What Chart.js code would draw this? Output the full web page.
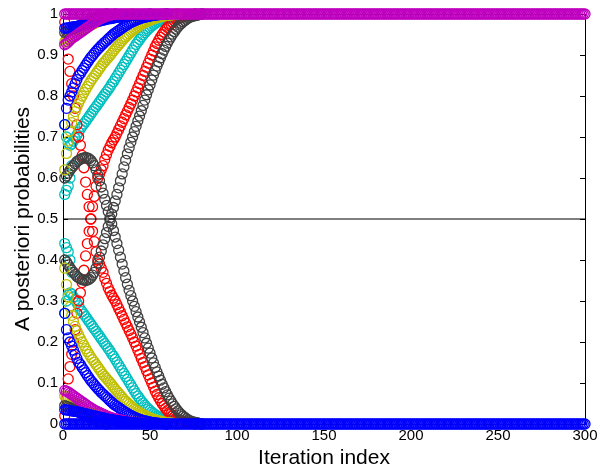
<!DOCTYPE html>
<html>
<head>
<meta charset="utf-8">
<script src="https://cdn.jsdelivr.net/npm/chart.js@4.4.1/dist/chart.umd.min.js"></script>
<style>
  html, body { margin: 0; padding: 0; background: #fff; }
  canvas { display: block; }
</style>
</head>
<body>
<canvas id="chart" width="603" height="467"></canvas>
<script>
// tick labels
const xTickLabels = ['0', '50', '100', '150', '200', '250', '300'];
const yTickLabels = ['0', '0.1', '0.2', '0.3', '0.4', '0.5', '0.6', '0.7', '0.8', '0.9', '1'];

// iterations run 1..300; converged values form the flat bands at 1 and 0
const lastIteration = 300;
const topBandValue = 1;
const bottomBandValue = 0;
const midLineX = [0, 300];
const midLineY = [0.5, 0.5];

// posterior values per iteration, starting at iteration 1
const blueUp = [0.73, 0.77, 0.79, 0.80, 0.81, 0.82, 0.83, 0.84, 0.85, 0.855,
  0.862, 0.868, 0.875, 0.882, 0.888, 0.894, 0.899, 0.904, 0.909, 0.914,
  0.918, 0.923, 0.927, 0.931, 0.935, 0.939, 0.943, 0.947, 0.951, 0.954,
  0.957, 0.960, 0.963, 0.966, 0.969, 0.972, 0.974, 0.977, 0.979, 0.981,
  0.983, 0.985, 0.987, 0.988, 0.990, 0.991, 0.992, 0.993, 0.994, 0.995,
  0.996, 0.997, 0.997, 0.998, 0.998, 0.999, 0.999, 0.999, 1, 1];
const blueLow = [0.27, 0.23, 0.21, 0.20, 0.19, 0.18, 0.17, 0.16, 0.15, 0.145,
  0.138, 0.132, 0.125, 0.118, 0.112, 0.106, 0.101, 0.096, 0.091, 0.086,
  0.082, 0.077, 0.073, 0.069, 0.065, 0.061, 0.057, 0.053, 0.049, 0.046,
  0.043, 0.040, 0.037, 0.034, 0.031, 0.028, 0.026, 0.023, 0.021, 0.019,
  0.017, 0.015, 0.013, 0.012, 0.010, 0.009, 0.008, 0.007, 0.006, 0.005,
  0.004, 0.003, 0.003, 0.002, 0.002, 0.001, 0.001, 0.001, 0, 0];

const yellowUp = [0.62, 0.66, 0.69, 0.715, 0.735, 0.75, 0.762, 0.773, 0.783, 0.792,
  0.80, 0.808, 0.816, 0.823, 0.83, 0.837, 0.843, 0.849, 0.855, 0.861,
  0.867, 0.873, 0.879, 0.884, 0.889, 0.894, 0.899, 0.904, 0.91, 0.915,
  0.92, 0.925, 0.93, 0.935, 0.94, 0.944, 0.948, 0.952, 0.956, 0.96,
  0.963, 0.966, 0.969, 0.972, 0.975, 0.977, 0.979, 0.981, 0.983, 0.985,
  0.987, 0.988, 0.99, 0.991, 0.992, 0.993, 0.994, 0.995, 0.996, 0.997,
  0.997, 0.998, 0.998, 0.999, 0.999, 1];
const yellowLow = [0.38, 0.34, 0.31, 0.285, 0.265, 0.25, 0.238, 0.227, 0.217, 0.208,
  0.20, 0.192, 0.184, 0.177, 0.17, 0.163, 0.157, 0.151, 0.145, 0.139,
  0.133, 0.127, 0.121, 0.116, 0.111, 0.106, 0.101, 0.096, 0.09, 0.085,
  0.08, 0.075, 0.07, 0.065, 0.06, 0.056, 0.052, 0.048, 0.044, 0.04,
  0.037, 0.034, 0.031, 0.028, 0.025, 0.023, 0.021, 0.019, 0.017, 0.015,
  0.013, 0.012, 0.01, 0.009, 0.008, 0.007, 0.006, 0.005, 0.004, 0.003,
  0.003, 0.002, 0.002, 0.001, 0.001, 0];

const cyanUp = [0.73, 0.70, 0.685, 0.68, 0.683, 0.69, 0.697, 0.705, 0.712, 0.72,
  0.726, 0.732, 0.738, 0.744, 0.75, 0.756, 0.762, 0.768, 0.774, 0.78,
  0.786, 0.792, 0.798, 0.804, 0.81, 0.816, 0.822, 0.829, 0.835, 0.842,
  0.849, 0.856, 0.863, 0.87, 0.877, 0.884, 0.891, 0.898, 0.905, 0.912,
  0.919, 0.926, 0.932, 0.938, 0.944, 0.949, 0.954, 0.959, 0.963, 0.967,
  0.971, 0.974, 0.977, 0.98, 0.982, 0.984, 0.986, 0.988, 0.989, 0.99,
  0.991, 0.992, 0.993, 0.994, 0.995, 0.995, 0.996, 0.996, 0.997, 0.997,
  0.997, 0.998, 0.998, 0.998, 0.999, 0.999, 0.999, 0.999, 1, 1];
const cyanLow = [0.27, 0.30, 0.315, 0.32, 0.317, 0.31, 0.303, 0.295, 0.288, 0.28,
  0.274, 0.268, 0.262, 0.256, 0.25, 0.244, 0.238, 0.232, 0.226, 0.22,
  0.214, 0.208, 0.202, 0.196, 0.19, 0.184, 0.178, 0.171, 0.165, 0.158,
  0.151, 0.144, 0.137, 0.13, 0.123, 0.116, 0.109, 0.102, 0.095, 0.088,
  0.081, 0.074, 0.068, 0.062, 0.056, 0.051, 0.046, 0.041, 0.037, 0.033,
  0.029, 0.026, 0.023, 0.02, 0.018, 0.016, 0.014, 0.012, 0.011, 0.01,
  0.009, 0.008, 0.007, 0.006, 0.005, 0.005, 0.004, 0.004, 0.003, 0.003,
  0.003, 0.002, 0.002, 0.002, 0.001, 0.001, 0.001, 0.001, 0, 0];
const cyanEarlyUp = [0.56, 0.57, 0.58, 0.60, 0.63];
const cyanEarlyLow = [0.44, 0.43, 0.42, 0.40, 0.37];

const redRise = [0.02, 0.06, 0.11, 0.14, 0.17, 0.20, 0.23, 0.27, 0.30, 0.32,
  0.345, 0.375, 0.41, 0.44, 0.47, 0.50, 0.53, 0.555, 0.58, 0.60,
  0.61, 0.62, 0.63, 0.645, 0.657, 0.668, 0.677, 0.686, 0.693, 0.70,
  0.709, 0.718, 0.727, 0.736, 0.745, 0.754, 0.763, 0.772, 0.781, 0.79,
  0.80, 0.81, 0.82, 0.83, 0.84, 0.85, 0.86, 0.87, 0.88, 0.89,
  0.90, 0.91, 0.92, 0.928, 0.936, 0.943, 0.95, 0.956, 0.962, 0.967,
  0.972, 0.976, 0.98, 0.983, 0.986, 0.988, 0.99, 0.992, 0.994, 0.995,
  0.996, 0.997, 0.998, 0.998, 0.999, 1];
const redFall = [0.98, 0.94, 0.89, 0.86, 0.83, 0.80, 0.77, 0.73, 0.70, 0.68,
  0.655, 0.625, 0.59, 0.56, 0.53, 0.50, 0.47, 0.445, 0.42, 0.40,
  0.39, 0.38, 0.37, 0.355, 0.343, 0.332, 0.323, 0.314, 0.307, 0.30,
  0.291, 0.282, 0.273, 0.264, 0.255, 0.246, 0.237, 0.228, 0.219, 0.21,
  0.20, 0.19, 0.18, 0.17, 0.16, 0.15, 0.14, 0.13, 0.12, 0.11,
  0.10, 0.09, 0.08, 0.072, 0.064, 0.057, 0.05, 0.044, 0.038, 0.033,
  0.028, 0.024, 0.02, 0.017, 0.014, 0.012, 0.01, 0.008, 0.006, 0.005,
  0.004, 0.003, 0.002, 0.002, 0.001, 0];

const grayFall = [0.60, 0.605, 0.612, 0.619, 0.625, 0.63, 0.635, 0.64, 0.643, 0.646,
  0.648, 0.649, 0.65, 0.649, 0.647, 0.643, 0.637, 0.63, 0.62, 0.607,
  0.593, 0.578, 0.563, 0.548, 0.533, 0.518, 0.503, 0.488, 0.472, 0.456,
  0.44, 0.424, 0.407, 0.39, 0.373, 0.357, 0.341, 0.326, 0.313, 0.30,
  0.287, 0.274, 0.261, 0.249, 0.236, 0.223, 0.21, 0.197, 0.185, 0.173,
  0.161, 0.149, 0.138, 0.127, 0.117, 0.107, 0.097, 0.088, 0.079, 0.071,
  0.063, 0.056, 0.049, 0.043, 0.037, 0.032, 0.027, 0.023, 0.019, 0.016,
  0.013, 0.01, 0.008, 0.006, 0.005, 0.004, 0.003, 0.002, 0.001, 0];
const grayRise = [0.40, 0.395, 0.388, 0.381, 0.375, 0.37, 0.365, 0.36, 0.357, 0.354,
  0.352, 0.351, 0.35, 0.351, 0.353, 0.357, 0.363, 0.37, 0.38, 0.393,
  0.407, 0.422, 0.437, 0.452, 0.467, 0.482, 0.497, 0.512, 0.528, 0.544,
  0.56, 0.576, 0.593, 0.61, 0.627, 0.643, 0.659, 0.674, 0.687, 0.70,
  0.713, 0.726, 0.739, 0.751, 0.764, 0.777, 0.79, 0.803, 0.815, 0.827,
  0.839, 0.851, 0.862, 0.873, 0.883, 0.893, 0.903, 0.912, 0.921, 0.929,
  0.937, 0.944, 0.951, 0.957, 0.963, 0.968, 0.973, 0.977, 0.981, 0.984,
  0.987, 0.99, 0.992, 0.994, 0.995, 0.996, 0.997, 0.998, 0.999, 1];

const magentaUp = [0.925, 0.928, 0.932, 0.936, 0.94, 0.943, 0.946, 0.949, 0.952, 0.955,
  0.958, 0.961, 0.964, 0.967, 0.97, 0.973, 0.976, 0.979, 0.982, 0.985,
  0.987, 0.989, 0.991, 0.993, 0.995, 0.996, 0.997, 0.998, 0.999, 1];
const magentaLow = [0.082, 0.08, 0.078, 0.075, 0.072, 0.069, 0.066, 0.063, 0.06, 0.057,
  0.054, 0.051, 0.048, 0.045, 0.042, 0.039, 0.037, 0.034, 0.032, 0.03,
  0.028, 0.026, 0.024, 0.022, 0.02, 0.018, 0.017, 0.015, 0.014, 0.013,
  0.012, 0.011, 0.01, 0.009, 0.008, 0.007, 0.006, 0.005, 0.005, 0.004,
  0.004, 0.003, 0.003, 0.002, 0.002, 0.002, 0.001, 0.001, 0.001, 0];

const yellowNearUp = [0.932, 0.934, 0.937, 0.94, 0.943, 0.946, 0.949, 0.952, 0.955, 0.958,
  0.96, 0.963, 0.966, 0.968, 0.971, 0.973, 0.975, 0.977, 0.979, 0.981,
  0.983, 0.984, 0.986, 0.987, 0.989, 0.99, 0.991, 0.992, 0.993, 0.994,
  0.995, 0.996, 0.996, 0.997, 0.997, 0.998, 0.998, 0.999, 0.999, 1];
const yellowNearLow = [0.068, 0.066, 0.063, 0.06, 0.057, 0.054, 0.051, 0.048, 0.045, 0.042,
  0.04, 0.037, 0.034, 0.032, 0.029, 0.027, 0.025, 0.023, 0.021, 0.019,
  0.017, 0.016, 0.014, 0.013, 0.011, 0.01, 0.009, 0.008, 0.007, 0.006,
  0.005, 0.004, 0.004, 0.003, 0.003, 0.002, 0.002, 0.001, 0.001, 0];

const grayNearUp = [0.955, 0.957, 0.958, 0.96, 0.962, 0.964, 0.966, 0.969, 0.971, 0.973,
  0.975, 0.978, 0.98, 0.982, 0.984, 0.986, 0.988, 0.99, 0.992, 0.994,
  0.995, 0.996, 0.997, 0.998, 1];
const grayNearLow = [0.045, 0.043, 0.042, 0.04, 0.038, 0.036, 0.034, 0.031, 0.029, 0.027,
  0.025, 0.022, 0.02, 0.018, 0.016, 0.014, 0.012, 0.01, 0.008, 0.006,
  0.005, 0.004, 0.003, 0.002, 0];

const blueNearUp = [0.965, 0.966, 0.966, 0.967, 0.968, 0.969, 0.969, 0.97, 0.971, 0.972,
  0.973, 0.974, 0.975, 0.976, 0.977, 0.978, 0.979, 0.98, 0.981, 0.982,
  0.983, 0.984, 0.985, 0.986, 0.987, 0.988, 0.989, 0.989, 0.99, 0.991,
  0.992, 0.992, 0.993, 0.994, 0.994, 0.995, 0.995, 0.996, 0.996, 0.997,
  0.997, 0.997, 0.998, 0.998, 0.998, 0.999, 0.999, 0.999, 0.999, 1];
const blueNearLow = [0.035, 0.034, 0.034, 0.033, 0.032, 0.031, 0.031, 0.03, 0.029, 0.028,
  0.027, 0.026, 0.025, 0.024, 0.023, 0.022, 0.021, 0.02, 0.019, 0.018,
  0.017, 0.016, 0.015, 0.014, 0.013, 0.012, 0.011, 0.011, 0.01, 0.009,
  0.008, 0.008, 0.007, 0.006, 0.006, 0.005, 0.005, 0.004, 0.004, 0.003,
  0.003, 0.003, 0.002, 0.002, 0.002, 0.001, 0.001, 0.001, 0.001, 0];

const BLUE = '#0000ff';
const RED = '#ff0000';
const YELLOW = '#bfbf00';
const CYAN = '#00bfbf';
const MAGENTA = '#bf00bf';
const GRAY = '#404040';

const iterations = Array.from({ length: lastIteration }, (_, i) => i + 1);

function circles(values, color) {
  return {
    data: values.map((v, i) => ({ x: i + 1, y: v })),
    borderColor: color,
    backgroundColor: 'rgba(0,0,0,0)',
    pointRadius: 5,
    pointBorderWidth: 1.3,
    showLine: false,
    clip: false
  };
}

function band(value, color) {
  return circles(iterations.map(() => value), color);
}

// matlab-like box with inward ticks, drawn under the markers
const axesBox = {
  id: 'axesBox',
  beforeDatasetsDraw(chart) {
    const { ctx, chartArea: a, scales: { x, y } } = chart;
    const len = 5;
    ctx.save();
    ctx.strokeStyle = '#000';
    ctx.lineWidth = 1;
    ctx.strokeRect(Math.round(a.left) + 0.5, Math.round(a.top) + 0.5,
      Math.round(a.right - a.left), Math.round(a.bottom - a.top));
    ctx.beginPath();
    x.ticks.forEach((t, i) => {
      const px = Math.round(x.getPixelForTick(i)) + 0.5;
      ctx.moveTo(px, a.bottom); ctx.lineTo(px, a.bottom - len);
      ctx.moveTo(px, a.top); ctx.lineTo(px, a.top + len);
    });
    y.ticks.forEach((t, i) => {
      const py = Math.round(y.getPixelForTick(i)) + 0.5;
      ctx.moveTo(a.left, py); ctx.lineTo(a.left + len, py);
      ctx.moveTo(a.right, py); ctx.lineTo(a.right - len, py);
    });
    ctx.stroke();
    ctx.restore();
  }
};

Chart.defaults.font.family = '"Liberation Sans", Arial, Helvetica, sans-serif';
Chart.defaults.color = '#000';

const ctx = document.getElementById('chart');
new Chart(ctx, {
  type: 'scatter',
  plugins: [axesBox],
  data: {
    datasets: [
      {
        type: 'line',
        data: midLineX.map((x, i) => ({ x, y: midLineY[i] })),
        borderColor: '#000',
        borderWidth: 1,
        pointRadius: 0,
        showLine: true,
        fill: false
      },
      band(bottomBandValue, BLUE),
      band(topBandValue, MAGENTA),
      circles(magentaUp, MAGENTA),
      circles(blueNearLow, BLUE),
      circles(blueNearUp, BLUE),
      circles(magentaLow, MAGENTA),
      circles(grayNearUp, GRAY),
      circles(grayNearLow, GRAY),
      circles(yellowNearUp, YELLOW),
      circles(yellowNearLow, YELLOW),
      circles(blueUp, BLUE),
      circles(blueLow, BLUE),
      circles(yellowUp, YELLOW),
      circles(yellowLow, YELLOW),
      circles(grayFall, GRAY),
      circles(grayRise, GRAY),
      circles(redFall, RED),
      circles(redRise, RED),
      circles(cyanUp, CYAN),
      circles(cyanLow, CYAN),
      circles(cyanEarlyUp, CYAN),
      circles(cyanEarlyLow, CYAN)
    ]
  },
  options: {
    responsive: false,
    animation: false,
    events: [],
    layout: { autoPadding: false, padding: { top: 12, right: 18, left: 0, bottom: 0 } },
    plugins: { legend: { display: false }, tooltip: { enabled: false } },
    scales: {
      x: {
        type: 'linear',
        min: 0,
        max: 300,
        grid: { display: false, drawTicks: false },
        border: { display: false },
        ticks: {
          stepSize: 50,
          maxRotation: 0,
          padding: 3,
          font: { size: 15 },
          callback: (v, i) => xTickLabels[i]
        },
        title: {
          display: true,
          text: 'Iteration index',
          font: { size: 21, lineHeight: 1 },
          padding: { top: 0, bottom: -2 }
        },
        afterFit(scale) { scale.height = 43; }
      },
      y: {
        type: 'linear',
        min: 0,
        max: 1,
        grid: { display: false, drawTicks: false },
        border: { display: false },
        ticks: {
          stepSize: 0.1,
          padding: 5,
          font: { size: 15 },
          callback: (v, i) => yTickLabels[i]
        },
        title: {
          display: true,
          text: 'A posteriori probabilities',
          font: { size: 21, lineHeight: 1 },
          padding: { top: 13, bottom: 0 }
        },
        afterFit(scale) { scale.width = 63; }
      }
    }
  }
});
</script>
</body>
</html>
